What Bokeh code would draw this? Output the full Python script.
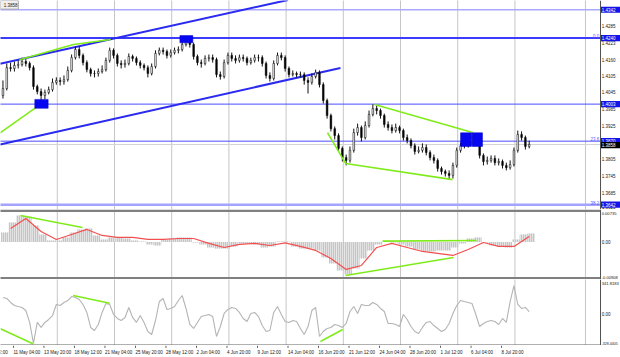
from bokeh.plotting import figure
from bokeh.layouts import column
from bokeh.models import Range1d, Span, ColumnDataSource
from bokeh.core.properties import value
from bokeh.embed import file_html
from bokeh.resources import INLINE

# ---------------- data (H4 bars, two bars per candle sample) ----------------
first_open = 1.4034
close = [
    1.4059, 1.4134, 1.4131, 1.4142, 1.4145, 1.4156, 1.4149, 1.4134, 1.4066, 1.4048,
    1.4034, 1.4045, 1.4055, 1.4081, 1.4088, 1.4084, 1.4091, 1.4124, 1.4170, 1.4199,
    1.4178, 1.4152, 1.4127, 1.4113, 1.4113, 1.4120, 1.4127, 1.4160, 1.4196, 1.4178,
    1.4149, 1.4145, 1.4149, 1.4174, 1.4167, 1.4152, 1.4142, 1.4134, 1.4113, 1.4138,
    1.4185, 1.4196, 1.4192, 1.4178, 1.4188, 1.4196, 1.4199, 1.4217, 1.4228, 1.4217,
    1.4174, 1.4152, 1.4149, 1.4167, 1.4170, 1.4163, 1.4109, 1.4102, 1.4152, 1.4178,
    1.4167, 1.4160, 1.4170, 1.4167, 1.4152, 1.4160, 1.4170, 1.4170, 1.4149, 1.4106,
    1.4095, 1.4149, 1.4178, 1.4170, 1.4131, 1.4109, 1.4113, 1.4109, 1.4109, 1.4088,
    1.4081, 1.4102, 1.4117, 1.4073, 1.4016, 1.3962, 1.3915, 1.3890, 1.3844, 1.3811,
    1.3801, 1.3837, 1.3901, 1.3919, 1.3883, 1.3926, 1.3966, 1.3987, 1.3980, 1.3962,
    1.3930, 1.3919, 1.3908, 1.3919, 1.3908, 1.3883, 1.3872, 1.3854, 1.3833, 1.3837,
    1.3847, 1.3829, 1.3811, 1.3801, 1.3772, 1.3761, 1.3754, 1.3747, 1.3783, 1.3837,
    1.3854, 1.3854, 1.3865, 1.3883, 1.3865, 1.3819, 1.3797, 1.3801, 1.3808, 1.3793,
    1.3797, 1.3783, 1.3775, 1.3786, 1.3837, 1.3894, 1.3883, 1.3851, 1.3858]
high = [
    1.4088, 1.4149, 1.4152, 1.4156, 1.4160, 1.4170, 1.4167, 1.4156, 1.4142, 1.4073,
    1.4059, 1.4055, 1.4066, 1.4095, 1.4099, 1.4099, 1.4106, 1.4138, 1.4181, 1.4210,
    1.4210, 1.4185, 1.4160, 1.4134, 1.4124, 1.4131, 1.4142, 1.4170, 1.4206, 1.4203,
    1.4185, 1.4160, 1.4163, 1.4185, 1.4181, 1.4174, 1.4160, 1.4149, 1.4142, 1.4149,
    1.4196, 1.4206, 1.4206, 1.4199, 1.4199, 1.4206, 1.4210, 1.4228, 1.4239, 1.4235,
    1.4224, 1.4181, 1.4163, 1.4178, 1.4181, 1.4181, 1.4170, 1.4120, 1.4163, 1.4188,
    1.4188, 1.4178, 1.4181, 1.4181, 1.4174, 1.4170, 1.4181, 1.4181, 1.4178, 1.4156,
    1.4117, 1.4160, 1.4188, 1.4188, 1.4178, 1.4138, 1.4124, 1.4120, 1.4120, 1.4117,
    1.4099, 1.4113, 1.4127, 1.4124, 1.4081, 1.4023, 1.3969, 1.3923, 1.3898, 1.3851,
    1.3822, 1.3851, 1.3915, 1.3933, 1.3926, 1.3941, 1.3980, 1.4002, 1.3998, 1.3987,
    1.3969, 1.3941, 1.3930, 1.3933, 1.3926, 1.3915, 1.3894, 1.3880, 1.3862, 1.3851,
    1.3862, 1.3858, 1.3837, 1.3822, 1.3808, 1.3779, 1.3768, 1.3765, 1.3793, 1.3847,
    1.3865, 1.3869, 1.3876, 1.3901, 1.3890, 1.3872, 1.3826, 1.3815, 1.3819, 1.3819,
    1.3808, 1.3804, 1.3793, 1.3801, 1.3847, 1.3908, 1.3905, 1.3890, 1.3872]
low = [
    1.4023, 1.4052, 1.4120, 1.4120, 1.4131, 1.4138, 1.4138, 1.4124, 1.4055, 1.4038,
    1.4012, 1.4020, 1.4038, 1.4048, 1.4073, 1.4070, 1.4073, 1.4084, 1.4117, 1.4163,
    1.4167, 1.4142, 1.4117, 1.4102, 1.4099, 1.4102, 1.4113, 1.4120, 1.4152, 1.4167,
    1.4138, 1.4131, 1.4134, 1.4142, 1.4156, 1.4142, 1.4131, 1.4124, 1.4099, 1.4106,
    1.4131, 1.4178, 1.4181, 1.4167, 1.4170, 1.4181, 1.4185, 1.4192, 1.4210, 1.4206,
    1.4163, 1.4142, 1.4134, 1.4142, 1.4156, 1.4152, 1.4099, 1.4091, 1.4095, 1.4145,
    1.4156, 1.4149, 1.4152, 1.4156, 1.4142, 1.4145, 1.4152, 1.4156, 1.4138, 1.4095,
    1.4084, 1.4088, 1.4142, 1.4160, 1.4120, 1.4099, 1.4102, 1.4099, 1.4099, 1.4073,
    1.4041, 1.4073, 1.4095, 1.4063, 1.4005, 1.3951, 1.3905, 1.3876, 1.3833, 1.3797,
    1.3783, 1.3793, 1.3829, 1.3890, 1.3869, 1.3876, 1.3919, 1.3959, 1.3966, 1.3951,
    1.3919, 1.3908, 1.3898, 1.3901, 1.3898, 1.3872, 1.3862, 1.3844, 1.3822, 1.3826,
    1.3829, 1.3819, 1.3801, 1.3790, 1.3761, 1.3750, 1.3743, 1.3732, 1.3736, 1.3775,
    1.3829, 1.3844, 1.3847, 1.3854, 1.3854, 1.3808, 1.3783, 1.3786, 1.3793, 1.3783,
    1.3783, 1.3772, 1.3765, 1.3768, 1.3779, 1.3829, 1.3872, 1.3840, 1.3844]

# MACD histogram (one value per 4 H4 bars) and signal line (one per 8 bars)
macd_hist = [
    0.00236, 0.00482, 0.00654, 0.00629, 0.00408, 0.00187, 0.00039, 0.00039, 0.00113, 0.00236,
    0.00310, 0.00334, 0.00162, 0.00064, 0.00113, 0.00113, 0.00088, 0.00039, 0.00015, -0.00059,
    -0.00084, 0.00064, 0.00088, 0.00113, 0.00113, -0.00010, -0.00059, -0.00133, -0.00157, -0.00157,
    -0.00108, -0.00034, -0.00034, -0.00059, -0.00133, -0.00108, 0.00015, 0.00015, -0.00108, -0.00157,
    -0.00157, -0.00206, -0.00378, -0.00526, -0.00698, -0.00796, -0.00649, -0.00403, -0.00206, -0.00059,
    0.00039, -0.00010, -0.00059, -0.00108, -0.00182, -0.00231, -0.00231, -0.00206, -0.00206, -0.00133,
    -0.00034, 0.00088, 0.00113, -0.00010, -0.00084, -0.00108, -0.00133, 0.00064, 0.00187, 0.00211]
macd_signal = [
    0.00334, 0.00580, 0.00260, 0.00064, 0.00187, 0.00310, 0.00162, 0.00113, 0.00113, 0.00064,
    0.00064, 0.00088, 0.00088, -0.00034, -0.00133, -0.00059, -0.00034, -0.00084, -0.00022, -0.00108,
    -0.00206, -0.00403, -0.00673, -0.00575, -0.00133, -0.00034, -0.00133, -0.00231, -0.00280, -0.00329,
    -0.00182, -0.00010, -0.00108, -0.00108, 0.00138]

# CCI (one value per 2 H4 bars)
cci = [
    180, 169, 126, 93, 82, 72, 39, -90, -317, -90,
    -144, -90, -58, -15, 104, 93, 126, 147, 190, 180,
    158, 104, 18, -144, -177, -112, 18, 115, 104, -4,
    -47, -69, -36, 72, -36, -90, -15, -90, -188, -220,
    -69, 136, 169, 50, 61, 82, 147, 201, 61, -112,
    -155, -90, -26, -15, -4, -26, -242, -134, 7, 50,
    72, 61, 18, -47, -80, 7, 18, -26, -123, -188,
    -177, 18, 82, -4, -80, -90, -69, -80, -155, -220,
    -134, 39, 72, -242, -188, -155, -144, -112, -123, -144,
    -101, 28, 82, 7, 104, 93, 93, 126, 104, 61,
    28, -101, -101, -112, -134, -4, -58, -134, -188, -209,
    -144, -90, -80, -123, -155, -188, -166, -101, 7, 93,
    147, 136, 126, 115, -4, -134, -101, -80, -69, -80,
    -112, -47, -90, 136, 309, 104, 61, 72, 28]

level_prices = [1.4342, 1.4240, 1.4003, 1.3870, 1.3642]
fibo_levels = [1.4240, 1.3870, 1.3642]
fibo_names = ["0.0", "23.6", "38.2"]
price_ticks = [1.4285, 1.4223, 1.4160, 1.4105, 1.4045, 1.3985, 1.3925,
               1.3805, 1.3745, 1.3685, 1.3625]
last_price = 1.3858
macd_scale = [0.00735, 0.0, -0.00908]
macd_scale_text = ["0.00735", "0.00", "-0.00908"]
cci_scale = [341.8183, 0.0, -328.4405]
cci_scale_text = ["341.8183", "0.00", "-328.4405"]

time_label_bars = [-10, 6, 22, 38, 54, 70, 86, 102, 118, 134, 150, 166, 182, 198, 214, 230, 246, 262]
time_labels = ["6 May 12:00", "11 May 04:00", "13 May 20:00", "18 May 12:00", "21 May 04:00",
               "25 May 20:00", "28 May 12:00", "2 Jun 04:00", "4 Jun 20:00", "9 Jun 12:00",
               "14 Jun 04:00", "16 Jun 20:00", "21 Jun 12:00", "24 Jun 04:00", "28 Jun 20:00",
               "1 Jul 12:00", "6 Jul 04:00", "8 Jul 20:00"]
week_start_bars = [29, 59, 89, 119, 149, 179, 209, 239, 269, 306]

box_left = [17.2, 93.3, 240.5, 246.6]
box_right = [24.2, 100.1, 246.2, 252.0]
box_top = [1.4020, 1.4249, 1.3900, 1.3900]
box_bottom = [1.3988, 1.4223, 1.3851, 1.3851]

channel_bars = [[-1, 150], [-1, 177.5]]
channel_prices = [[1.4148, 1.4377], [1.3858, 1.4133]]
green_bars = [[-1, 20.7], [9.2, 37.5, 57.0], [195.4, 246.8], [170.7, 180.2, 236.3]]
green_prices = [[1.3900, 1.4005], [1.4162, 1.4217, 1.4235], [1.4002, 1.3901], [1.3901, 1.3790, 1.3732]]
macd_green_bars = [[9.7, 42.2], [199.6, 248.9], [180.2, 236.8]]
macd_green_vals = [[0.00654, 0.00359], [0.00022, 0.00039], [-0.00821, -0.00378]]
cci_green_bars = [[-0.8, 16.2], [37.3, 56.5], [167.0, 178.7]]
cci_green_vals = [[-158, -320], [201, 118], [-296, -166]]

# ---------------- layout / style ----------------
AXIS_B = 313.9          # bar position of the price-scale border
LBL_B = 314.5           # where the scale labels start
XL, XR = -0.787, 324.38
FONT = value("Liberation Sans")
FS = value("4.5px")
FS_SMALL = value("4.1px")
GREEN = "#7fec1a"
BLUE = "#2a2af0"

xr = Range1d(XL, XR)


def mkfig(h, y0, y1):
    p = figure(width=620, height=h, x_range=xr, y_range=Range1d(y0, y1),
               output_backend="svg", toolbar_location=None,
               x_axis_location=None, y_axis_location=None, min_border=0,
               outline_line_color=None, background_fill_color="white",
               border_fill_color="white")
    p.grid.visible = False
    return p


def add_week_grid(p):
    for b in week_start_bars:
        p.add_layout(Span(location=b, dimension="height", line_color="#8c8c8c",
                          line_dash="1 1", line_width=1, level="underlay"))
    p.add_layout(Span(location=AXIS_B, dimension="height", line_color="#505050",
                      line_width=1))


def scale_labels(p, ys, texts, color="#202020", baseline="middle", size=FS):
    p.text(x=[LBL_B] * len(ys), y=ys, text=texts, text_font=FONT, text_font_size=size,
           text_color=color, text_align="left", text_baseline=baseline)


# ---- main price window ----
main = mkfig(209, 1.36247, 1.4375)
add_week_grid(main)
lvl_colors = ["#a9a9ff", "#3c3cff", "#4c4cff", "#4c4cff", "#a4a4ff"]
lvl_widths = [1.5, 2, 1, 1, 2.5]
for lv, col, lw in zip(level_prices, lvl_colors, lvl_widths):
    main.segment(x0=[XL - 1], x1=[AXIS_B], y0=[lv], y1=[lv], line_color=col, line_width=lw)
main.segment(x0=[XL - 1], x1=[AXIS_B], y0=[last_price], y1=[last_price],
             line_color="#d4d4d4", line_width=1)
for bx, py in zip(channel_bars, channel_prices):
    main.line(bx, py, line_color=BLUE, line_width=2)

opens = [first_open] + close[:-1]
cbar = [2 * k + 0.5 for k in range(len(close))]
src = ColumnDataSource(dict(
    x=cbar, h=high, l=low,
    top=[max(o, c) for o, c in zip(opens, close)],
    bot=[min(o, c) for o, c in zip(opens, close)],
    fill=["white" if c >= o else "black" for o, c in zip(opens, close)]))
main.segment(x0="x", x1="x", y0="h", y1="l", source=src, line_color="#111111", line_width=1)
main.vbar(x="x", width=0.85, top="top", bottom="bot", source=src,
          fill_color="fill", line_color="#111111", line_width=0.6)

for bx, py in zip(green_bars, green_prices):
    main.line(bx, py, line_color=GREEN, line_width=1.6)
main.quad(left=box_left, right=box_right, top=box_top, bottom=box_bottom,
          fill_color="#0606f0", line_color="#0000c8", line_width=0.5)

main.text(x=[AXIS_B - 0.6] * 3, y=fibo_levels, text=fibo_names, text_font=FONT,
          text_font_size=FS, text_color="#5a5aff", text_align="right",
          text_baseline="bottom")
# price scale
scale_labels(main, price_ticks[:-1], [f"{v:.4f}" for v in price_ticks[:-1]])
scale_labels(main, price_ticks[-1:], [f"{price_ticks[-1]:.4f}"], baseline="bottom")
BOX_H = 0.00110
main.quad(left=[AXIS_B + 0.2] * len(level_prices), right=[XR] * len(level_prices),
          top=[v + BOX_H for v in level_prices], bottom=[v - BOX_H for v in level_prices],
          fill_color="#1414e6", line_color=None)
scale_labels(main, level_prices, [f"{v:.4f}" for v in level_prices], color="white")
main.quad(left=[AXIS_B + 0.2], right=[XR], top=[last_price + BOX_H - 0.0002],
          bottom=[last_price - BOX_H - 0.0002], fill_color="black", line_color=None)
scale_labels(main, [last_price - 0.0002], [f"{last_price:.4f}"], color="white")
# top-left price tag
main.quad(left=[XL], right=[8.6], top=[1.4375], bottom=[1.4344],
          fill_color="#efefef", line_color="#9a9a9a", line_width=0.8)
main.text(x=[0.9], y=[1.43595], text=[f"{last_price:.4f}"], text_font=FONT,
          text_font_size=FS, text_color="#202020", text_align="left",
          text_baseline="middle")

# ---- MACD window ----
macd = mkfig(70, -0.0092, 0.0080)
add_week_grid(macd)
hbar = [4 * j + 1.5 for j in range(len(macd_hist))]
macd.vbar(x=hbar, width=4, top=macd_hist, bottom=0, fill_color="#e2e2e2",
          line_color=None, hatch_pattern="|", hatch_color="#a8a8a8",
          hatch_scale=2.0, hatch_weight=1.0)
sbar = [8 * m + 4.5 for m in range(len(macd_signal))]
macd.line(sbar, macd_signal, line_color="#f25050", line_width=1.2)
for bx, vy in zip(macd_green_bars, macd_green_vals):
    macd.line(bx, vy, line_color=GREEN, line_width=1.6)
macd.segment(x0=[XL - 1, XL - 1], x1=[AXIS_B, AXIS_B], y0=[0.007705, -0.008905],
             y1=[0.007705, -0.008905], line_color="#808080", line_width=2.5)
scale_labels(macd, macd_scale[1:2], macd_scale_text[1:2])
scale_labels(macd, macd_scale[:1], macd_scale_text[:1], baseline="top", size=FS_SMALL)
scale_labels(macd, macd_scale[2:], macd_scale_text[2:], baseline="bottom", size=FS_SMALL)

# ---- CCI window ----
cciw = mkfig(66, -339, 374)
add_week_grid(cciw)
cciw.line([2 * k + 0.5 for k in range(len(cci))], cci, line_color="#b4b4b4",
          line_width=1.1)
for bx, vy in zip(cci_green_bars, cci_green_vals):
    cciw.line(bx, vy, line_color=GREEN, line_width=1.6)
cciw.segment(x0=[XL - 1], x1=[AXIS_B], y0=[-333.6], y1=[-333.6],
             line_color="#606060", line_width=1)
scale_labels(cciw, cci_scale[1:2], cci_scale_text[1:2])
scale_labels(cciw, cci_scale[:1], cci_scale_text[:1], baseline="top", size=FS_SMALL)
scale_labels(cciw, cci_scale[2:], cci_scale_text[2:], baseline="bottom", size=value("3.6px"))

# ---- time scale strip ----
tstrip = mkfig(12, 0, 1)
tstrip.segment(x0=time_label_bars, x1=time_label_bars, y0=[1] * len(time_label_bars),
               y1=[0.8] * len(time_label_bars), line_color="#606060", line_width=1)
tstrip.text(x=time_label_bars, y=[0.45] * len(time_label_bars), text=time_labels,
            text_font=FONT, text_font_size=FS, text_color="#202020",
            text_align="left", text_baseline="middle")

p = column(main, macd, cciw, tstrip, spacing=0)
open("out.html", "w").write(file_html(p, INLINE))
